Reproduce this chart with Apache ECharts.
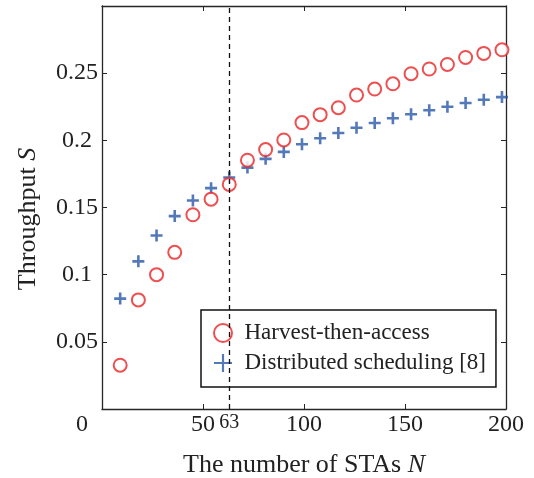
<!DOCTYPE html>
<html lang="en">
<head>
    <meta charset="UTF-8">
    <title>Throughput vs number of STAs</title>
    <script src="https://cdn.jsdelivr.net/npm/echarts@6/dist/echarts.min.js"></script>
    <style>
        body { margin: 0; background: #fff; }
        #chart { width: 534px; height: 478px; }
    </style>
</head>
<body>
    <div id="chart"></div>
    <script>
        // number of STAs N
        var staCounts = [9, 18, 27, 36, 45, 54, 63, 72, 81, 90, 99, 108, 117, 126, 135, 144, 153, 162, 171, 180, 189, 198];
        var harvestThenAccess = [0.0326, 0.0812, 0.1000, 0.1166, 0.1446, 0.1562, 0.1672, 0.1852, 0.1931, 0.2003, 0.2132, 0.2191,
            0.2243, 0.2337, 0.2382, 0.2421, 0.2496, 0.2531, 0.2565, 0.2617, 0.2647, 0.2674];
        var distributedScheduling = [0.0822, 0.1099, 0.1292, 0.1436, 0.1552, 0.1644, 0.1723, 0.1797, 0.1862, 0.1914, 0.1971, 0.2016,
            0.2055, 0.2094, 0.2129, 0.2164, 0.2194, 0.2224, 0.2250, 0.2278, 0.2302, 0.2322];
        var xTicks = [50, 100, 150, 200];
        var yTicks = [0.05, 0.1, 0.15, 0.2, 0.25];
        var markedN = 63;

        var font = 'Liberation Serif';
        var red = '#ea2326';
        var blue = '#2858a6';
        var plusPath = 'path://M0,4.7H12V7.3H0Z M4.7,0H7.3V12H4.7Z';

        function pairs(ys) {
            return ys.map(function (y, i) { return [staCounts[i], y]; });
        }

        var chart = echarts.init(document.getElementById('chart'));

        var axisLine = { show: true, onZero: false, lineStyle: { color: '#262626', width: 1.3 } };
        var axisTick = { show: true, inside: true, length: 5, lineStyle: { color: '#262626', width: 1 } };

        chart.setOption({
            animation: false,
            textStyle: { fontFamily: font },
            grid: { left: 102, top: 6, width: 404, height: 403, outerBoundsMode: 'none', containLabel: false },
            legend: {
                orient: 'vertical',
                left: 201,
                top: 310,
                width: 289,
                padding: [11, 10, 12, 12],
                itemGap: 6,
                itemWidth: 33,
                itemHeight: 18,
                backgroundColor: '#fff',
                borderColor: '#111',
                borderWidth: 1.5,
                borderRadius: 0,
                textStyle: { fontFamily: font, fontSize: 23, lineHeight: 24, color: '#222' },
                data: [
                    { name: 'Harvest-then-access' },
                    { name: 'Distributed scheduling [8]', icon: 'path://M0,8.8H20V11.2H0Z M8.8,0H11.2V20H8.8Z' }
                ]
            },
            xAxis: [{
                type: 'value',
                min: 0,
                max: 200,
                interval: 50,
                position: 'bottom',
                name: '{t|The number of STAs }{i|N}',
                nameLocation: 'middle',
                nameGap: 43,
                nameTextStyle: {
                    rich: {
                        t: { fontFamily: font, fontSize: 26, color: '#222' },
                        i: { fontFamily: font, fontSize: 26, fontStyle: 'italic', color: '#222' }
                    }
                },
                axisLine: axisLine,
                axisTick: axisTick,
                splitLine: { show: false },
                axisLabel: {
                    margin: 4,
                    fontFamily: font,
                    fontSize: 24,
                    color: '#222',
                    customValues: xTicks
                }
            }, {
                type: 'value',
                min: 0,
                max: 200,
                interval: 50,
                position: 'top',
                axisLine: axisLine,
                axisTick: axisTick,
                axisLabel: { show: false },
                splitLine: { show: false }
            }],
            yAxis: [{
                type: 'value',
                min: 0,
                max: 0.3,
                interval: 0.05,
                position: 'left',
                name: '{t|Throughput }{i|S}',
                nameLocation: 'middle',
                nameGap: 61,
                nameTextStyle: {
                    padding: [0, 23, 0, 0],
                    rich: {
                        t: { fontFamily: font, fontSize: 26, color: '#222' },
                        i: { fontFamily: font, fontSize: 26, fontStyle: 'italic', color: '#222' }
                    }
                },
                axisLine: axisLine,
                axisTick: axisTick,
                splitLine: { show: false },
                axisLabel: {
                    margin: 25,
                    align: 'center',
                    fontFamily: font,
                    fontSize: 24,
                    color: '#222',
                    customValues: yTicks
                }
            }, {
                type: 'value',
                min: 0,
                max: 0.3,
                interval: 0.05,
                position: 'right',
                axisLine: axisLine,
                axisTick: axisTick,
                axisLabel: { show: false },
                splitLine: { show: false }
            }],
            graphic: [{
                type: 'text',
                left: 76,
                top: 413,
                style: { text: '0', font: '24px "Liberation Serif"', fill: '#222' }
            }],
            series: [{
                name: 'Harvest-then-access',
                type: 'scatter',
                data: pairs(harvestThenAccess),
                symbol: 'emptyCircle',
                symbolSize: 13,
                itemStyle: { color: red, borderColor: red, borderWidth: 2.3 },
                markLine: {
                    silent: true,
                    symbol: 'none',
                    lineStyle: { color: '#111', type: [5, 4], width: 1.3 },
                    label: {
                        show: true,
                        position: 'start',
                        distance: 4,
                        formatter: String(markedN),
                        fontFamily: font,
                        fontSize: 20,
                        color: '#222'
                    },
                    data: [{ xAxis: markedN }]
                },
                z: 3
            }, {
                name: 'Distributed scheduling [8]',
                type: 'scatter',
                data: pairs(distributedScheduling),
                symbol: plusPath,
                symbolSize: 12,
                itemStyle: { color: blue },
                z: 2
            }]
        });
    </script>
</body>
</html>
